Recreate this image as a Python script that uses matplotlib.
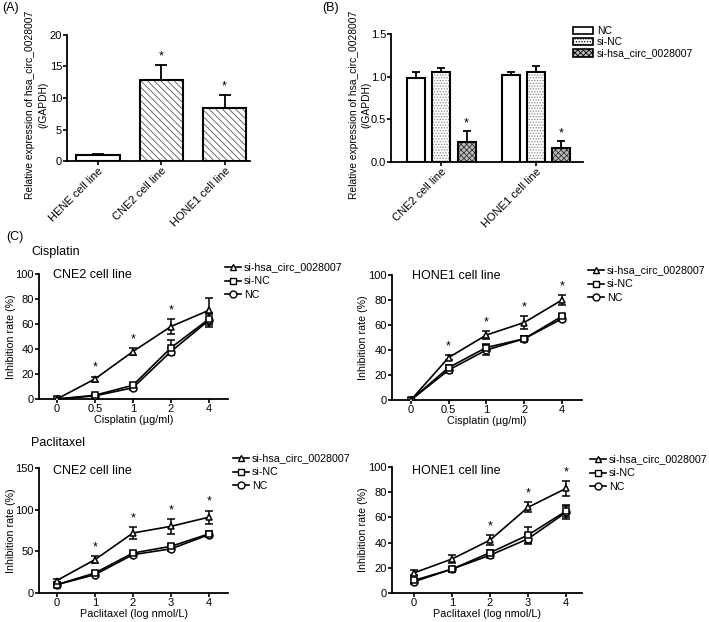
import numpy as np
import matplotlib
matplotlib.use("Agg")
import matplotlib.pyplot as plt
from matplotlib.patches import Patch
from matplotlib.lines import Line2D

plt.rcParams['font.family'] = ['Liberation Sans', 'DejaVu Sans']
plt.rcParams['hatch.linewidth'] = 0.6

# =========================
# DATA
# =========================
# (A)
a_labels = ["HENE cell line", "CNE2 cell line", "HONE1 cell line"]
a_vals = [1.0, 12.8, 8.4]
a_err = [0.15, 2.4, 2.1]
a_star = [False, True, True]

# (B)
b_groups = ["CNE2 cell line", "HONE1 cell line"]
b_series = ["NC", "si-NC", "si-hsa_circ_0028007"]
b_vals = {"NC": [0.98, 1.02], "si-NC": [1.05, 1.06], "si-hsa_circ_0028007": [0.23, 0.16]}
b_err = {"NC": [0.07, 0.04], "si-NC": [0.05, 0.07], "si-hsa_circ_0028007": [0.13, 0.09]}

# (C)
cis_ticks = ["0", "0.5", "1", "2", "4"]
pac_ticks = ["0", "1", "2", "3", "4"]
series_names = ["si-hsa_circ_0028007", "si-NC", "NC"]

cis_cne2 = {"si-hsa_circ_0028007": [0, 16, 38, 58, 71],
            "si-NC": [0, 3, 11, 41, 64],
            "NC": [0, 2.5, 9, 38, 63]}
cis_cne2_err = {"si-hsa_circ_0028007": [0.5, 2, 3, 6, 10],
                "si-NC": [0.5, 1, 2, 6, 5],
                "NC": [0.5, 1, 2, 3, 5]}
cis_cne2_star = [1, 2, 3]

cis_hone1 = {"si-hsa_circ_0028007": [0, 34, 52, 62, 80],
             "si-NC": [0, 26, 42, 49, 67],
             "NC": [0, 24, 40, 49, 65]}
cis_hone1_err = {"si-hsa_circ_0028007": [0.5, 2, 3, 5, 4],
                 "si-NC": [0.5, 2, 3, 2, 2],
                 "NC": [0.5, 2, 4, 2, 2]}
cis_hone1_star = [1, 2, 3, 4]

pac_cne2 = {"si-hsa_circ_0028007": [15, 40, 72, 80, 91],
            "si-NC": [10, 24, 48, 56, 71],
            "NC": [10, 22, 46, 53, 70]}
pac_cne2_err = {"si-hsa_circ_0028007": [2, 4, 7, 9, 8],
                "si-NC": [2, 3, 3, 3, 3],
                "NC": [2, 2, 2, 3, 3]}
pac_cne2_star = [1, 2, 3, 4]

pac_hone1 = {"si-hsa_circ_0028007": [16, 27, 42, 68, 83],
             "si-NC": [10, 19, 32, 46, 65],
             "NC": [9, 19, 30, 43, 64]}
pac_hone1_err = {"si-hsa_circ_0028007": [2, 3, 4, 4, 6],
                 "si-NC": [2, 2, 2, 6, 5],
                 "NC": [2, 2, 2, 4, 5]}
pac_hone1_star = [2, 3, 4]

# =========================
# HELPERS
# =========================
W, H = 709, 622
fig = plt.figure(figsize=(W / 100, H / 100), dpi=100)


def add_ax(l, r, t, b):
    return fig.add_axes([l / W, 1 - b / H, (r - l) / W, (b - t) / H])


def prism_style(ax):
    for s in ["top", "right"]:
        ax.spines[s].set_visible(False)
    for s in ["left", "bottom"]:
        ax.spines[s].set_linewidth(1.3)
    ax.tick_params(direction="out", length=3, width=1.2, labelsize=8, pad=0.6)


def hatched_bar(ax, x, h, w, hatch, fc="white", hc="#555555"):
    ax.bar(x, h, w, color=fc, edgecolor=hc, hatch=hatch, linewidth=0, zorder=2)
    ax.bar(x, h, w, fill=False, edgecolor="black", linewidth=1.5, zorder=3)


ylab_bar = "Relative expression of hsa_circ_0028007\n(/GAPDH)"

# =========================
# (A)
# =========================
axA = add_ax(67, 250, 35, 161)
prism_style(axA)
xa = np.arange(len(a_labels))
hatches_a = [None, "\\\\\\\\\\", "\\\\\\\\\\"]
for i in range(len(xa)):
    hatched_bar(axA, xa[i], a_vals[i], 0.68, hatches_a[i])
    axA.errorbar(xa[i], a_vals[i], yerr=[[0], [a_err[i]]], fmt="none", ecolor="black",
                 elinewidth=1.3, capsize=4.5, capthick=1.3, zorder=4)
    if a_star[i]:
        axA.annotate("*", (xa[i], a_vals[i] + a_err[i]), xytext=(0, 2), textcoords="offset points",
                     ha="center", va="bottom", fontsize=9)
axA.set_xlim(-0.49, 2.4)
axA.set_ylim(0, 20)
axA.set_yticks([0, 5, 10, 15, 20])
axA.set_xticks(xa)
axA.set_xticklabels(a_labels, rotation=45, ha="right", rotation_mode="anchor", fontsize=8)
axA.set_ylabel(ylab_bar, fontsize=7.4, linespacing=1.4)
axA.yaxis.set_label_coords(-0.102, 0.444)

# =========================
# (B)
# =========================
axB = add_ax(391, 583, 34, 162)
prism_style(axB)
xb = np.arange(len(b_groups))
offs = [-0.268, 0, 0.268]
b_hatch = [None, "......", "xxxxxx"]
b_fc = ["white", "white", "#bbbbbb"]
b_hc = ["#555555", "#888888", "#333333"]
for k, name in enumerate(b_series):
    for j in range(len(xb)):
        xx = xb[j] + offs[k]
        hatched_bar(axB, xx, b_vals[name][j], 0.19, b_hatch[k], b_fc[k], b_hc[k])
        axB.errorbar(xx, b_vals[name][j], yerr=[[0], [b_err[name][j]]], fmt="none", ecolor="black",
                     elinewidth=1.3, capsize=2.8, capthick=1.3, zorder=4)
        if name == "si-hsa_circ_0028007":
            axB.annotate("*", (xx, b_vals[name][j] + b_err[name][j]), xytext=(0, 1),
                         textcoords="offset points", ha="center", va="bottom", fontsize=9)
axB.set_xlim(-0.53, 1.495)
axB.set_ylim(0, 1.5)
axB.set_yticks([0, 0.5, 1.0, 1.5])
axB.set_yticklabels(["0.0", "0.5", "1.0", "1.5"])
axB.set_xticks(xb)
axB.set_xticklabels(b_groups, rotation=45, ha="right", rotation_mode="anchor", fontsize=8)
axB.set_ylabel(ylab_bar, fontsize=7.4, linespacing=1.4)
axB.yaxis.set_label_coords(-0.1, 0.445)
b_handles = [Patch(facecolor=b_fc[k], edgecolor="black", hatch=b_hatch[k], linewidth=1.2)
             for k in range(len(b_series))]
fig.legend(b_handles, b_series, loc="upper left", bbox_to_anchor=(573 / W, 1 - 26 / H),
           frameon=False, fontsize=7.5, handlelength=1.9, handleheight=0.75,
           labelspacing=0.12, handletextpad=0.4, borderaxespad=0, borderpad=0)

# =========================
# (C)
# =========================
markers = {"si-hsa_circ_0028007": "^", "si-NC": "s", "NC": "o"}


def line_panel(ax, ticks, data, err, stars, ylim, yticks, title, title_pos, xlabel, xlim):
    prism_style(ax)
    x = np.arange(len(ticks))
    for name in ["NC", "si-NC", "si-hsa_circ_0028007"]:
        ax.errorbar(x, data[name], yerr=err[name], color="black", marker=markers[name],
                    mfc="white", mec="black", ms=5, mew=1.1, lw=1.2,
                    elinewidth=1.1, capsize=3, capthick=1.1, zorder=3)
    top = np.array(data["si-hsa_circ_0028007"]) + np.array(err["si-hsa_circ_0028007"])
    for i in stars:
        ax.annotate("*", (x[i], top[i]), xytext=(0, 2), textcoords="offset points",
                    ha="center", va="bottom", fontsize=9)
    ax.set_xlim(*xlim)
    ax.set_ylim(*ylim)
    ax.set_yticks(yticks)
    ax.set_xticks(x)
    ax.set_xticklabels(ticks)
    ax.set_xlabel(xlabel, fontsize=7.8, labelpad=1)
    ax.set_ylabel("Inhibition rate (%)", fontsize=7.7)
    ax.yaxis.set_label_coords(-0.124, 0.5)
    ax.text(title_pos[0], title_pos[1], title, transform=ax.transAxes, fontsize=9,
            va="center", ha="left")


def line_legend(x_px, y_px):
    hs = [Line2D([0], [0], color="black", marker=markers[n], mfc="white", mec="black",
                 ms=5, lw=1.2) for n in series_names]
    fig.legend(hs, series_names, loc="upper left", bbox_to_anchor=(x_px / W, 1 - y_px / H),
               frameon=False, fontsize=7.7, handlelength=1.5, labelspacing=0.36,
               handletextpad=0.25, borderaxespad=0, borderpad=0)


ax1 = add_ax(39, 228, 274, 399)
line_panel(ax1, cis_ticks, cis_cne2, cis_cne2_err, cis_cne2_star, (0, 100), [0, 20, 40, 60, 80, 100],
           "CNE2 cell line", (0.074, 0.99), "Cisplatin (\u00b5g/ml)", (-0.47, 4.5))
line_legend(225, 262.5)

ax2 = add_ax(392, 582, 275, 400)
line_panel(ax2, cis_ticks, cis_hone1, cis_hone1_err, cis_hone1_star, (0, 100), [0, 20, 40, 60, 80, 100],
           "HONE1 cell line", (0.105, 0.99), "Cisplatin (\u00b5g/ml)", (-0.5, 4.53))
line_legend(588, 265.5)

ax3 = add_ax(39, 228, 468, 593)
line_panel(ax3, pac_ticks, pac_cne2, pac_cne2_err, pac_cne2_star, (0, 150), [0, 50, 100, 150],
           "CNE2 cell line", (0.074, 0.975), "Paclitaxel (log nmol/L)", (-0.47, 4.5))
line_legend(233, 453.5)

ax4 = add_ax(392, 582, 467, 593)
line_panel(ax4, pac_ticks, pac_hone1, pac_hone1_err, pac_hone1_star, (0, 100), [0, 20, 40, 60, 80, 100],
           "HONE1 cell line", (0.105, 0.97), "Paclitaxel (log nmol/L)", (-0.58, 4.42))
line_legend(590, 454.5)

# section labels
fig.text(2 / W, 1 - 8 / H, "(A)", fontsize=9, va="center")
fig.text(322 / W, 1 - 8 / H, "(B)", fontsize=9, va="center")
fig.text(6 / W, 1 - 237 / H, "(C)", fontsize=9, va="center")
fig.text(31 / W, 1 - 252 / H, "Cisplatin", fontsize=9, va="center")
fig.text(31 / W, 1 - 443 / H, "Paclitaxel", fontsize=9, va="center")

fig.savefig("out.png", dpi=100)
